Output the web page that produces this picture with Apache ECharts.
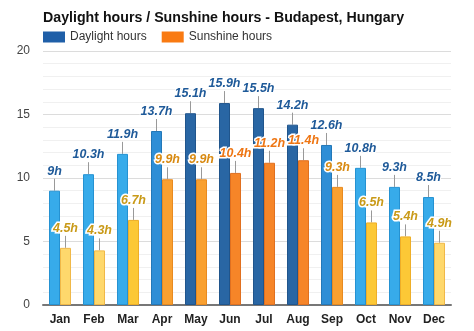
<!DOCTYPE html>
<html><head><meta charset="utf-8">
<script src="https://cdn.jsdelivr.net/npm/echarts@6/dist/echarts.min.js"></script>
<style>html,body{margin:0;padding:0;background:#fff}#c{width:474px;height:331px}</style>
</head><body><div id="c"></div>
<script>
const months = ['Jan','Feb','Mar','Apr','May','Jun','Jul','Aug','Sep','Oct','Nov','Dec'];
const daylight = [9, 10.3, 11.9, 13.7, 15.1, 15.9, 15.5, 14.2, 12.6, 10.8, 9.3, 8.5];
const sunshine = [4.5, 4.3, 6.7, 9.9, 9.9, 10.4, 11.2, 11.4, 9.3, 6.5, 5.4, 4.9];
const yTicks = [0, 5, 10, 15, 20];

function dayStyle(v){
  if (v >= 14) return {fill:'#2966a4', border:'#20558c', text:'#1f5a99'};
  if (v >= 12.5) return {fill:'#2e8ed6', border:'#2378b8', text:'#1f5a99'};
  return {fill:'#37abea', border:'#2592d2', text:'#1f5a99'};
}
function sunStyle(v){
  if (v >= 10) return {fill:'#f68528', border:'#e07020', text:'#ee7614'};
  if (v >= 9) return {fill:'#f9a030', border:'#e88a20', text:'#d88a12'};
  if (v >= 5.2) return {fill:'#fcc836', border:'#eeae28', text:'#c99a18'};
  return {fill:'#fed86c', border:'#f0b848', text:'#c99a18'};
}
const BW = 11;
const chart = echarts.init(document.getElementById('c'));
function lineItem(offset){
  return function(params, api){
    const p = api.coord([api.value(0), api.value(1)]);
    const x = p[0] + offset;
    return {type:'line', shape:{x1:x, y1:p[1], x2:x, y2:p[1]-12},
      style:{stroke:'#999', lineWidth:1}, silent:true};
  };
}
chart.setOption({
  animation:false,
  title:{text:'Daylight hours / Sunshine hours - Budapest, Hungary', left:38, top:6,
    textStyle:{fontFamily:'Liberation Sans', fontSize:14.2, fontWeight:'bold', color:'#111'}},
  legend:{left:38, top:26, itemWidth:22, itemHeight:11, itemGap:15,
    textStyle:{fontFamily:'Liberation Sans', fontSize:12, color:'#333'},
    data:['Daylight hours','Sunshine hours'], icon:'rect'},
  grid:{left:43, right:23, top:51, bottom:26},
  xAxis:{type:'category', data:months,
    axisLine:{lineStyle:{color:'#777', width:2}}, axisTick:{show:false},
    axisLabel:{fontFamily:'Liberation Sans', fontSize:12, fontWeight:'bold', color:'#222', margin:9}},
  yAxis:{type:'value', min:0, max:20, interval:5,
    axisLabel:{fontFamily:'Liberation Sans', fontSize:12, color:'#444', margin:13,
      formatter:function(v){return yTicks.indexOf(v)>=0 ? String(v) : '';}},
    splitLine:{lineStyle:{color:'#dcdcdc'}},
    minorTick:{show:false, splitNumber:5},
    minorSplitLine:{show:true, lineStyle:{color:'#f0f0f0'}}},
  series:[
    {name:'Daylight hours', type:'bar', barWidth:BW, barGap:'0%',
      itemStyle:{color:'#1f5fa8'},
      data:daylight.map(v=>{const s=dayStyle(v);return {value:v,
        itemStyle:{color:s.fill, borderColor:s.border, borderWidth:1},
        label:{color:s.text}};}),
      label:{show:true, position:'top', distance:13, formatter:'{c}h',
        fontFamily:'Liberation Sans', fontSize:12.5, fontWeight:'bold', fontStyle:'italic',
        textBorderColor:'#fff', textBorderWidth:2}},
    {name:'Sunshine hours', type:'bar', barWidth:BW, barGap:'0%',
      itemStyle:{color:'#f97a12'},
      data:sunshine.map(v=>{const s=sunStyle(v);return {value:v,
        itemStyle:{color:s.fill, borderColor:s.border, borderWidth:1},
        label:{color:s.text}};}),
      label:{show:true, position:'top', distance:13, formatter:'{c}h',
        fontFamily:'Liberation Sans', fontSize:12.5, fontWeight:'bold', fontStyle:'italic',
        textBorderColor:'#fff', textBorderWidth:3}},
    {type:'custom', renderItem:lineItem(-BW/2), data:daylight.map((v,i)=>[i,v]), z:1, silent:true},
    {type:'custom', renderItem:lineItem(BW/2), data:sunshine.map((v,i)=>[i,v]), z:1, silent:true}
  ]
});
</script></body></html>
